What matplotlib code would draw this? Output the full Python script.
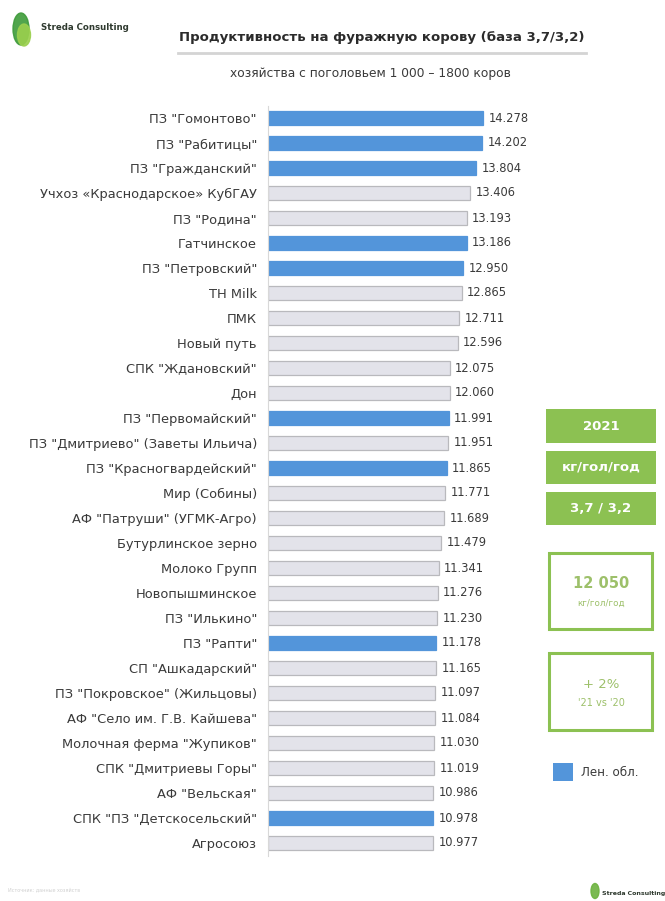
import matplotlib
matplotlib.use("Agg")
import matplotlib.pyplot as plt
from matplotlib.patches import Rectangle, Ellipse
from matplotlib.lines import Line2D

plt.rcParams['font.family'] = ['DejaVu Sans']

# ---------------- data ----------------
farms = [
    'ПЗ "Гомонтово"', 'ПЗ "Рабитицы"', 'ПЗ "Гражданский"',
    'Учхоз «Краснодарское» КубГАУ', 'ПЗ "Родина"', 'Гатчинское',
    'ПЗ "Петровский"', 'ТН Milk', 'ПМК', 'Новый путь',
    'СПК "Ждановский"', 'Дон', 'ПЗ "Первомайский"',
    'ПЗ "Дмитриево" (Заветы Ильича)', 'ПЗ "Красногвардейский"',
    'Мир (Собины)', 'АФ "Патруши" (УГМК-Агро)', 'Бутурлинское зерно',
    'Молоко Групп', 'Новопышминское', 'ПЗ "Илькино"', 'ПЗ "Рапти"',
    'СП "Ашкадарский"', 'ПЗ "Покровское" (Жильцовы)',
    'АФ "Село им. Г.В. Кайшева"', 'Молочная ферма "Жупиков"',
    'СПК "Дмитриевы Горы"', 'АФ "Вельская"', 'СПК "ПЗ "Детскосельский"',
    'Агросоюз',
]
milk_kg = [14278, 14202, 13804, 13406, 13193, 13186, 12950, 12865, 12711, 12596,
           12075, 12060, 11991, 11951, 11865, 11771, 11689, 11479, 11341, 11276,
           11230, 11178, 11165, 11097, 11084, 11030, 11019, 10986, 10978, 10977]
len_obl = [True, True, True, False, False, True, True, False, False, False,
           False, False, True, False, True, False, False, False, False, False,
           False, True, False, False, False, False, False, False, True, False]

title = 'Продуктивность на фуражную корову (база 3,7/3,2)'
subtitle = 'хозяйства с поголовьем 1 000 – 1800 коров'
badges = ['2021', 'кг/гол/год', '3,7 / 3,2']
avg_value = '12 050'
avg_unit = 'кг/гол/год'
growth = '+ 2%'
growth_note = "'21 vs '20"
legend_label = 'Лен. обл.'

# ---------------- style ----------------
W, H = 665, 901
BLUE = '#5395DA'
GRAY_FILL = '#E3E3EA'
GRAY_EDGE = '#B9B9BD'
GREEN = '#8CC152'
GREEN_TXT = '#9DC06A'
TXT = '#3A3A3A'

fig = plt.figure(figsize=(W / 100, H / 100), dpi=100)
fig.patch.set_facecolor('white')


def fx(x):
    return x / W


def fy(y):
    return 1 - y / H


# ---------------- main bar axes ----------------
ax_left, ax_right = 268, 540
row_top, row_bot = 105.5, 855.5
ax = fig.add_axes([fx(ax_left), fy(row_bot), (ax_right - ax_left) / W, (row_bot - row_top) / H])
n = len(farms)
ypos = list(range(n))
colors = [BLUE if b else GRAY_FILL for b in len_obl]
edges = [BLUE if b else GRAY_EDGE for b in len_obl]
ax.barh(ypos, milk_kg, height=0.58, color=colors, edgecolor=edges, linewidth=0.9)
xmax = max(milk_kg) * (ax_right - ax_left) / (483 - ax_left)
ax.set_xlim(0, xmax)
ax.set_ylim(n - 0.5, -0.5)
ax.set_yticks(ypos)
ax.set_yticklabels(farms, fontsize=9.4, color=TXT)
ax.tick_params(axis='y', length=0, pad=8)
ax.set_xticks([])
for s in ['top', 'right', 'bottom']:
    ax.spines[s].set_visible(False)
ax.spines['left'].set_color('#D8D8D8')
ax.spines['left'].set_linewidth(0.8)
for y, v in zip(ypos, milk_kg):
    ax.text(v + xmax * 0.02, y, f"{v:,}".replace(',', '.'), va='center', ha='left',
            fontsize=8.3, color=TXT)

# ---------------- header ----------------
fig.text(fx(382), fy(37), title, ha='center', va='center', fontsize=9.5,
         fontweight='bold', color='#2B2B2B')
fig.add_artist(Line2D([fx(178), fx(586)], [fy(53), fy(53)], color='#D4D4D4', lw=2))
fig.text(fx(370), fy(73), subtitle, ha='center', va='center', fontsize=8.8, color=TXT)

# logo top-left
fig.add_artist(Ellipse((fx(21), fy(29)), 16 / W, 32 / H, color='#3E9B3A', alpha=0.9))
fig.add_artist(Ellipse((fx(24), fy(35)), 13 / W, 22 / H, color='#9BD04E', alpha=0.9))
fig.text(fx(41), fy(27), 'Streda Consulting', ha='left', va='center', fontsize=6.2,
         fontweight='bold', color='#2F3A2F')

# footer
fig.text(fx(8), fy(890), 'Источник: данные хозяйств', ha='left', va='center', fontsize=3.5,
         color='#D0D0D0')
fig.add_artist(Ellipse((fx(595), fy(891)), 8 / W, 15 / H, color='#6DB33F', alpha=0.9))
fig.text(fx(602), fy(893), 'Streda Consulting', ha='left', va='center', fontsize=4.5,
         fontweight='bold', color='#2F3A2F')

# ---------------- right panel ----------------
badge_y = [(409, 443), (451, 484), (492, 525)]
for (y0, y1), t in zip(badge_y, badges):
    fig.add_artist(Rectangle((fx(546), fy(y1)), (656 - 546) / W, (y1 - y0) / H,
                             facecolor=GREEN, edgecolor='none'))
    fig.text(fx(601), fy((y0 + y1) / 2), t, ha='center', va='center', fontsize=9.5,
             fontweight='bold', color='white')

for (y0, y1) in [(553, 629), (653, 730)]:
    fig.add_artist(Rectangle((fx(549), fy(y1)), (652 - 549) / W, (y1 - y0) / H,
                             facecolor='white', edgecolor=GREEN, linewidth=2.2))

fig.text(fx(601), fy(583), avg_value, ha='center', va='center', fontsize=10.5,
         color=GREEN_TXT, fontweight='bold')
fig.text(fx(601), fy(603), avg_unit, ha='center', va='center', fontsize=6.3,
         color=GREEN_TXT)
fig.text(fx(601), fy(685), growth, ha='center', va='center', fontsize=9.5,
         color=GREEN_TXT)
fig.text(fx(601), fy(703), growth_note, ha='center', va='center', fontsize=7,
         color=GREEN_TXT)

# legend
fig.add_artist(Rectangle((fx(553), fy(781)), 20 / W, 18 / H, facecolor=BLUE, edgecolor='none'))
fig.text(fx(581), fy(772), legend_label, ha='left', va='center', fontsize=8.6, color=TXT)

fig.savefig('out.png', dpi=100, facecolor='white')
